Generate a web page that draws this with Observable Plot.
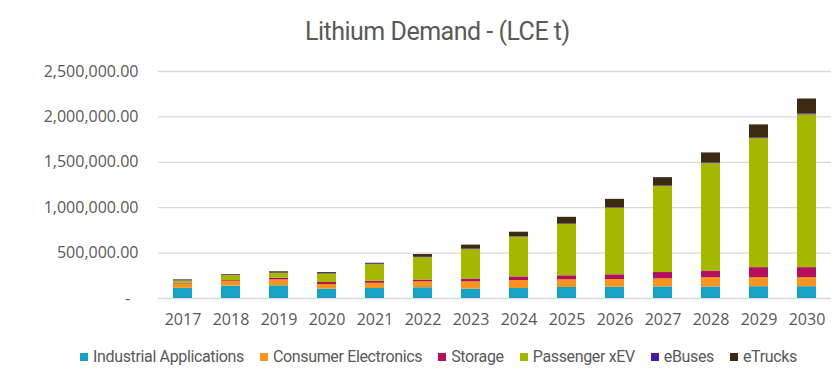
<!DOCTYPE html>
<html>
<head>
<meta charset="utf-8">
<script src="https://cdn.jsdelivr.net/npm/d3@7"></script>
<script src="https://cdn.jsdelivr.net/npm/@observablehq/plot@0.6"></script>
<style>
  html, body { margin: 0; padding: 0; background: #fff; }
  #wrap { position: relative; width: 834px; height: 369px; overflow: hidden; }
  #title { position: absolute; top: 17px; left: 305px; white-space: nowrap;
    font-family: Roboto, sans-serif; font-size: 25px; letter-spacing: -0.5px; color: #595959; }
  #chart { position: absolute; top: 0; left: 0; }
  #legend { position: absolute; top: 347px; left: 80px; display: flex; align-items: center;
    font-family: Roboto, sans-serif; font-size: 16px; letter-spacing: -0.35px; color: #595959; white-space: nowrap; }
  .item { display: flex; align-items: center; margin-right: 16px; }
  .sw { width: 8px; height: 8px; margin-right: 5px; }
</style>
</head>
<body>
<div id="wrap">
  <div id="title">Lithium Demand - (LCE t)</div>
  <div id="chart"></div>
  <div id="legend"></div>
</div>
<script>
const years = ["2017","2018","2019","2020","2021","2022","2023","2024","2025","2026","2027","2028","2029","2030"];
const seriesNames = ["Industrial Applications","Consumer Electronics","Storage","Passenger xEV","eBuses","eTrucks"];
const seriesColors = ["#16a2c3","#f7941d","#b2105c","#a6b700","#4a1aa0","#3c2a12"];
const industrial = [112000,137000,139000,104000,110000,118000,104000,110000,121000,124000,128000,127000,130000,130000];
const consumer   = [48000,52000,66000,50000,58000,66000,80000,88000,85000,85000,88000,102000,100000,100000];
const storage    = [8000,8000,19000,22000,22000,19000,30000,40000,44000,52000,70000,74000,110000,110000];
const passenger  = [25000,55000,52000,92000,183000,246000,326000,437000,565000,733000,947000,1182000,1421000,1682000];
const ebuses     = [4000,8000,5000,5000,10000,5000,8000,5000,5000,6000,6000,8000,8000,10000];
const etrucks    = [8000,4000,13000,12000,5000,30000,40000,50000,74000,92000,92000,110000,143000,165000];
const yTicks = [0,500000,1000000,1500000,2000000,2500000];

const seriesValues = [industrial, consumer, storage, passenger, ebuses, etrucks];
const rows = [];
seriesNames.forEach((s, i) => years.forEach((y, j) => rows.push({year: y, series: s, value: seriesValues[i][j]})));

const fmt = d3.format(",.2f");
const chart = Plot.plot({
  width: 834,
  height: 335,
  marginTop: 71,
  marginBottom: 37,
  marginLeft: 158,
  marginRight: 3,
  style: {fontFamily: "'Open Sans', sans-serif", fontSize: "16px", color: "#595959", background: "transparent"},
  x: {domain: years, paddingInner: 0.6, paddingOuter: 0.3, label: null},
  y: {domain: [0, 2500000], label: null},
  color: {domain: seriesNames, range: seriesColors},
  marks: [
    Plot.gridY(yTicks, {stroke: "#d9d9d9", strokeOpacity: 1, strokeWidth: 1.3}),
    Plot.axisY(yTicks, {tickSize: 0, tickPadding: 20, tickFormat: d => d === 0 ? "-\u00a0\u00a0" : fmt(d), fill: "#595959", fontSize: 16}),
    Plot.axisX({tickSize: 0, tickPadding: 15, fill: "#595959", fontSize: 16}),
    Plot.barY(rows, Plot.stackY({order: seriesNames}, {x: "year", y: "value", fill: "series"}))
  ]
});
document.getElementById("chart").appendChild(chart);

const legend = document.getElementById("legend");
seriesNames.forEach((s, i) => {
  const it = document.createElement("div");
  it.className = "item";
  const sw = document.createElement("div");
  sw.className = "sw";
  sw.style.background = seriesColors[i];
  const t = document.createElement("span");
  t.textContent = s;
  it.appendChild(sw); it.appendChild(t);
  legend.appendChild(it);
});
</script>
</body>
</html>
